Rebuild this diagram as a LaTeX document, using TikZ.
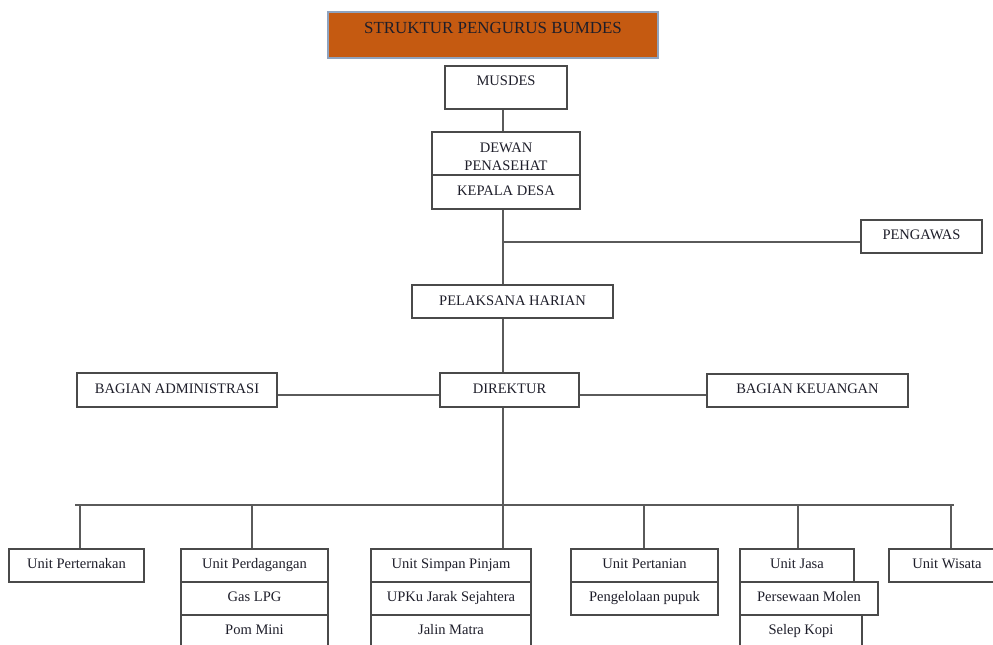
\documentclass[tikz,border=0pt]{standalone}
\usepackage{fontspec}
\setmainfont{Liberation Serif}
\usetikzlibrary{fit}
\definecolor{ttl}{HTML}{C55A11}
\definecolor{ln}{HTML}{5A5A5A}
\definecolor{bx}{HTML}{4A4A4A}
\definecolor{tx}{HTML}{1E1E2A}
\definecolor{tb}{HTML}{8FA3BF}
\newcommand\obox[7]{%
  \node[box, fit={(#2,#3) (#4,#5)}] (#1) {};
  \node[txt] at ({(#2+#4)/2},#6) {#7};}
\begin{document}
\begin{tikzpicture}[x=0.75pt,y=-0.75pt,
  box/.style={draw=bx, line width=1.1pt, inner sep=0pt, fill=white},
  lnk/.style={draw=ln, line width=1pt},
  txt/.style={anchor=base, inner sep=0pt, text=tx, font=\fontsize{10.9}{13}\selectfont}]
\useasboundingbox (0,0) rectangle (993,644);
\clip (0,0) rectangle (993,644);
% title
\node[box, fill=ttl, draw=tb, line width=0.8pt, fit={(328,12) (658,58)}] (title) {};
\node[txt, font=\fontsize{12.7}{15}\selectfont] at (493,33) {STRUKTUR PENGURUS BUMDES};
% upper chain
\obox{musdes}{445}{66}{567}{109}{85}{MUSDES}
\obox{dewan}{432}{132}{580}{175}{152}{DEWAN}
\node[txt] at (506,170) {PENASEHAT};
\obox{kepala}{432}{175}{580}{209}{195}{KEPALA DESA}
\obox{peng}{861}{220}{982}{253}{239}{PENGAWAS}
\obox{pel}{412}{285}{613}{318}{305}{PELAKSANA HARIAN}
\obox{adm}{77}{373}{277}{407}{393}{BAGIAN ADMINISTRASI}
\obox{dir}{440}{373}{579}{407}{393}{DIREKTUR}
\obox{keu}{707}{374}{908}{407}{393}{BAGIAN KEUANGAN}
% units
\obox{pet}{9}{549}{144}{582}{568}{Unit Perternakan}
\obox{dag}{181}{549}{328}{582}{568}{Unit Perdagangan}
\obox{gas}{181}{582}{328}{615}{601}{Gas LPG}
\obox{pom}{181}{615}{328}{665}{634}{Pom Mini}
\obox{simpan}{371}{549}{531}{582}{568}{Unit Simpan Pinjam}
\obox{upku}{371}{582}{531}{615}{601}{UPKu Jarak Sejahtera}
\obox{jalin}{371}{615}{531}{665}{634}{Jalin Matra}
\obox{tani}{571}{549}{718}{582}{568}{Unit Pertanian}
\obox{pupuk}{571}{582}{718}{615}{601}{Pengelolaan pupuk}
\obox{jasa}{740}{549}{854}{582}{568}{Unit Jasa}
\obox{molen}{740}{582}{878}{615}{601}{Persewaan Molen}
\obox{selep}{740}{615}{862}{665}{634}{Selep Kopi}
\obox{wis}{889}{549}{1005}{582}{568}{Unit Wisata}
% connectors
\coordinate (tr) at (503,0);
\draw[lnk] (musdes.south -| tr) -- (dewan.north -| tr);
\draw[lnk] (kepala.south -| tr) -- (pel.north -| tr);
\coordinate (br) at (503,242);
\draw[lnk] (br) -- (br -| peng.west);
\draw[lnk] (pel.south -| tr) -- (dir.north -| tr);
\coordinate (hl) at (0,395);
\draw[lnk] (adm.east |- hl) -- (dir.west |- hl);
\draw[lnk] (dir.east |- hl) -- (keu.west |- hl);
\draw[lnk] (dir.south -| tr) -- (simpan.north -| tr);
\coordinate (busL) at (75,505);
\coordinate (busR) at (954,505);
\draw[lnk] (busL) -- (busR);
\foreach \xx/\n in {80/pet,252/dag,644/tani,798/jasa,951/wis}{
  \coordinate (d\n) at (\xx,505);
  \draw[lnk] (d\n) -- (d\n |- \n.north);
}
\end{tikzpicture}
\end{document}
